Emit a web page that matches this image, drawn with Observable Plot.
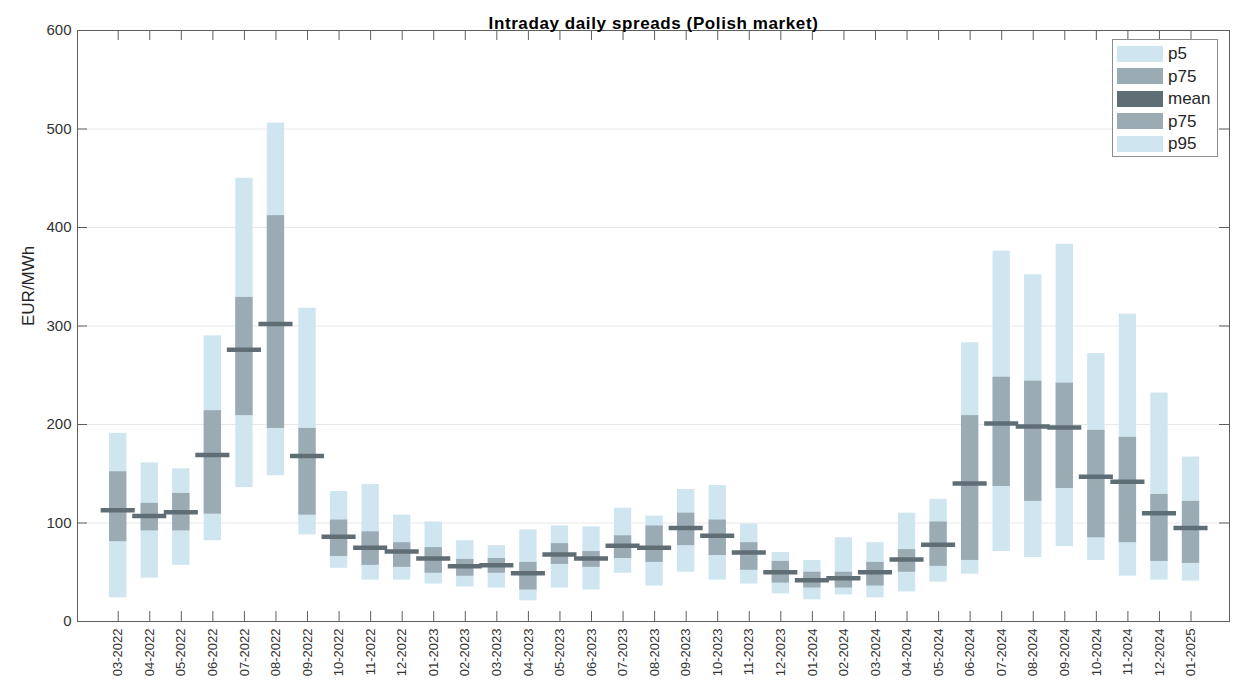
<!DOCTYPE html>
<html>
<head>
<meta charset="utf-8">
<script src="https://cdn.jsdelivr.net/npm/d3@7"></script>
<script src="https://cdn.jsdelivr.net/npm/@observablehq/plot@0.6"></script>
<style>
  html, body { margin: 0; padding: 0; background: #fff; }
  body { font-family: "Liberation Sans", Arial, Helvetica, sans-serif; }
  #wrap { position: relative; width: 1238px; height: 681px; }
  #legend {
    position: absolute; left: 1112px; top: 39px; width: 106px; height: 118px;
    box-sizing: border-box; border: 1px solid #8c8c8c; background: #fff;
  }
  .lg-row { position: absolute; left: 4px; height: 17px; display: flex; align-items: center; }
  .lg-sw { width: 46px; height: 16px; margin-right: 5px; }
  .lg-tx { font-size: 17px; color: #262626; line-height: 17px; }
</style>
</head>
<body>
<div id="wrap"></div>
<script>
// ---------- data ----------
const title = "Intraday daily spreads (Polish market)";
const yLabel = "EUR/MWh";
const months = [
  "03-2022","04-2022","05-2022","06-2022","07-2022","08-2022","09-2022","10-2022","11-2022","12-2022",
  "01-2023","02-2023","03-2023","04-2023","05-2023","06-2023","07-2023","08-2023","09-2023","10-2023",
  "11-2023","12-2023","01-2024","02-2024","03-2024","04-2024","05-2024","06-2024","07-2024","08-2024",
  "09-2024","10-2024","11-2024","12-2024","01-2025"
];
const p5   = [24, 44, 57, 82, 136, 148, 88, 54, 42, 42, 38, 35, 34, 21, 34, 32, 49, 36, 50, 42, 38, 28, 22, 27, 24, 30, 40, 48, 71, 65, 76, 62, 46, 42, 41];
const p25  = [81, 92, 92, 109, 209, 196, 108, 66, 57, 55, 49, 46, 49, 32, 58, 55, 64, 60, 77, 67, 52, 39, 34, 34, 36, 50, 56, 62, 137, 122, 135, 85, 80, 61, 59];
const mean = [113, 107, 111, 169, 276, 302, 168, 86, 75, 71, 64, 56, 57, 49, 68, 64, 77, 75, 95, 87, 70, 50, 42, 44, 50, 63, 78, 140, 201, 198, 197, 147, 142, 110, 95];
const p75  = [152, 120, 130, 214, 329, 412, 196, 103, 91, 80, 75, 63, 64, 60, 79, 71, 87, 97, 110, 103, 80, 61, 50, 50, 60, 73, 101, 209, 248, 244, 242, 194, 187, 129, 122];
const p95  = [191, 161, 155, 290, 450, 506, 318, 132, 139, 108, 101, 82, 77, 93, 97, 96, 115, 107, 134, 138, 99, 70, 62, 85, 80, 110, 124, 283, 376, 352, 383, 272, 312, 232, 167];
const yTicks = [0, 100, 200, 300, 400, 500, 600];
const legendLabels = ["p5", "p75", "mean", "p75", "p95"];

// ---------- styles ----------
const cOuter = "#cfe6f1";
const cInner = "#9aabb4";
const cMean  = "#5f6e75";
const legendColors = [cOuter, cInner, cMean, cInner, cOuter];
const axisColor = "#5e5e5e";

const data = months.map((m, i) => ({i, m, p5: p5[i], p25: p25[i], mean: mean[i], p75: p75[i], p95: p95[i]}));

const W = 1238, H = 681, mL = 77, mR = 9, mT = 30, mB = 60;
const plotW = W - mL - mR, plotH = H - mT - mB;
const barHalf = 0.275, meanHalf = 0.54, tickLen = 10;
const font = "'Liberation Sans', Arial, Helvetica, sans-serif";

const chart = Plot.plot({
  width: W, height: H,
  marginLeft: mL, marginRight: mR, marginTop: mT, marginBottom: mB,
  style: {fontFamily: font, background: "#fff", color: "#333", overflow: "visible"},
  x: {type: "linear", domain: [-1.29, 35.22]},
  y: {domain: [0, 600]},
  marks: [
    Plot.ruleY(yTicks.slice(1, -1), {stroke: "#e8e8e8", strokeWidth: 1}),
    Plot.rect(data, {x1: d => d.i - barHalf, x2: d => d.i + barHalf, y1: "p5", y2: "p95", fill: cOuter}),
    Plot.rect(data, {x1: d => d.i - barHalf, x2: d => d.i + barHalf, y1: "p25", y2: "p75", fill: cInner}),
    Plot.ruleY(data, {x1: d => d.i - meanHalf, x2: d => d.i + meanHalf, y: "mean", stroke: cMean, strokeWidth: 4.5}),
    // inward ticks on all four sides
    Plot.tickX(data, {x: "i", stroke: axisColor, insetTop: plotH - tickLen}),
    Plot.tickX(data, {x: "i", stroke: axisColor, insetBottom: plotH - tickLen}),
    Plot.tickY(yTicks, {y: d => d, stroke: axisColor, insetRight: plotW - tickLen}),
    Plot.tickY(yTicks, {y: d => d, stroke: axisColor, insetLeft: plotW - tickLen}),
    Plot.frame({stroke: axisColor}),
    Plot.axisY(yTicks, {tickSize: 0, tickPadding: 6, fontSize: 15, label: null}),
    Plot.axisX(data.map(d => d.i), {tickSize: 0, tickRotate: -90, tickPadding: 7, fontSize: 13,
      tickFormat: i => months[i], label: null}),
    Plot.text([title], {frameAnchor: "top", dy: -14, fontWeight: "bold", fontSize: 17, fill: "#000"}),
    Plot.text([yLabel], {frameAnchor: "left", rotate: -90, dx: -49, fontSize: 17, fill: "#262626"})
  ]
});

const wrap = document.getElementById("wrap");
wrap.appendChild(chart);

// title letter spacing to match the wider original rendering
d3.select(chart).selectAll("text").filter(function () { return this.textContent === title; })
  .style("letter-spacing", "0.6px");

// legend
const lg = document.createElement("div");
lg.id = "legend";
legendLabels.forEach((lab, k) => {
  const row = document.createElement("div");
  row.className = "lg-row";
  row.style.top = (5 + k * 22.6) + "px";
  const sw = document.createElement("div");
  sw.className = "lg-sw";
  sw.style.background = legendColors[k];
  const tx = document.createElement("div");
  tx.className = "lg-tx";
  tx.textContent = lab;
  row.appendChild(sw); row.appendChild(tx);
  lg.appendChild(row);
});
wrap.appendChild(lg);
</script>
</body>
</html>
